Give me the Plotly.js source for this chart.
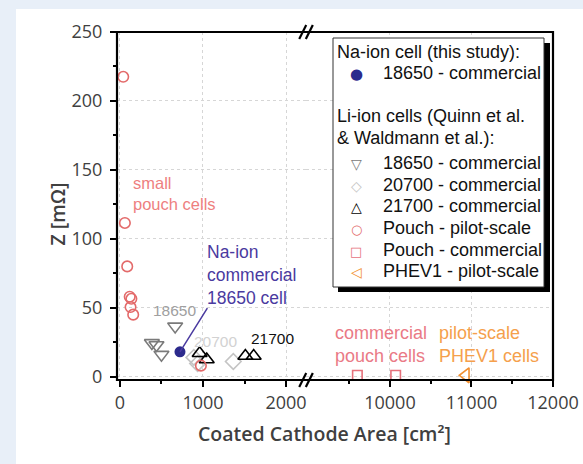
<!DOCTYPE html>
<html><head><meta charset="utf-8">
<script src="https://cdn.plot.ly/plotly-3.0.1.min.js"></script>
<style>html,body{margin:0;padding:0;background:#e8eff8;}#chart{width:583px;height:464px;}</style>
</head><body><div id="chart"></div>
<script>
// ---- data ----
const naX = [723];                        const naY = [18];
const li18650X = [665, 385, 440, 500];    const li18650Y = [36.5, 24.5, 23, 16];
const li20700X = [890, 935, 1365];        const li20700Y = [14, 9.5, 11];
const li21700X = [960, 1045, 1510, 1610]; const li21700Y = [17, 12.5, 15, 15];
const pouchPilotX = [40, 60, 88, 118, 138, 128, 160, 975];
const pouchPilotY = [217.5, 111.5, 80, 58, 56.5, 50.5, 45, 8];
const pouchCommX = [9600, 10070];         const pouchCommY = [1, 1];
const phevX = [10930];                    const phevY = [1];

const leftTicks = [0, 1000, 2000];
const leftMinor = [500, 1500];
const rightTicks = [10000, 11000, 12000];
const rightMinor = [9500, 10500, 11500];
const yTicks = [0, 50, 100, 150, 200, 250];

const groupTitleNa = 'Na-ion cell (this study):';
const groupTitleLi1 = 'Li-ion cells (Quinn et al.';
const groupTitleLi2 = '& Waldmann et al.):';
const seriesNames = ['18650 - commercial', '18650 - commercial', '20700 - commercial',
  '21700 - commercial', 'Pouch - pilot-scale', 'Pouch - commercial', 'PHEV1 - pilot-scale'];

// ---- styling ----
const ARIAL = 'Liberation Sans, Arial, sans-serif';
const TICKF = 'Open Sans, sans-serif';
const colors = ['#2c2a8c', '#7a7a7a', '#c4c4c4', '#000000', '#e36a6a', '#e6727c', '#f29030'];
const keyGlyphs = ['\u25CF', '\u25BD', '\u25C7', '\u25B3', '\u25CB', '\u25A1', '\u25C1'];
const keySizes = [15, 14, 14, 14, 13, 13, 14];
const NA_TEXT = '#4a3aa0';

// pixel -> paper helpers (plot area: x 117..553, y 32..380)
const PX = x => (x - 117) / 436;
const PY = y => 1 - (y - 32) / 348;

function openM(color, symbol, size) {
  return {symbol: symbol, size: size, color: color, line: {color: color, width: 1.6}};
}

const traces = [
  {x: naX, y: naY, xaxis: 'x', yaxis: 'y', mode: 'markers', name: seriesNames[0],
   marker: {symbol: 'circle', size: 11, color: colors[0]}, cliponaxis: false},
  {x: li18650X, y: li18650Y, xaxis: 'x', yaxis: 'y', mode: 'markers', name: seriesNames[1],
   marker: openM(colors[1], 'triangle-down-open', 13), cliponaxis: false},
  {x: li20700X, y: li20700Y, xaxis: 'x', yaxis: 'y', mode: 'markers', name: seriesNames[2],
   marker: openM(colors[2], 'diamond-open', 12), cliponaxis: false},
  {x: li21700X, y: li21700Y, xaxis: 'x', yaxis: 'y', mode: 'markers', name: seriesNames[3],
   marker: openM(colors[3], 'triangle-up-open', 13), cliponaxis: false},
  {x: pouchPilotX, y: pouchPilotY, xaxis: 'x', yaxis: 'y', mode: 'markers', name: seriesNames[4],
   marker: openM(colors[4], 'circle-open', 10.5), cliponaxis: false},
  {x: pouchCommX, y: pouchCommY, xaxis: 'x2', yaxis: 'y', mode: 'markers', name: seriesNames[5],
   marker: openM(colors[5], 'square-open', 9.5), cliponaxis: false},
  {x: phevX, y: phevY, xaxis: 'x2', yaxis: 'y', mode: 'markers', name: seriesNames[6],
   marker: openM(colors[6], 'triangle-left-open', 13), cliponaxis: false}
];

const BREAK = 0.4335;
const axCommon = {
  ticks: 'outside', ticklen: 6, tickwidth: 2, tickcolor: '#000',
  showgrid: true, gridcolor: '#d6d6d6', griddash: 'dot', gridwidth: 1,
  showline: false, zeroline: false, tickformat: 'd',
  tickfont: {family: TICKF, size: 18, color: '#404040'}
};
const minorCommon = {ticks: 'outside', ticklen: 3, tickwidth: 2, tickcolor: '#000', showgrid: false};

function slash(xc, yAnchor) {
  return {type: 'line', xref: 'paper', yref: 'paper', xsizemode: 'pixel', ysizemode: 'pixel',
          xanchor: BREAK, yanchor: yAnchor, x0: xc - 3.5, x1: xc + 3.5, y0: -7, y1: 7,
          line: {color: '#000', width: 2.2}};
}

// ---- hand-drawn legend (box + text) ----
const legendRowsY = [73, 163, 185, 206, 228, 250, 271];
const legendAnn = [];
legendAnn.push({xref: 'paper', yref: 'paper', x: PX(335), y: PY(52), xanchor: 'left', yanchor: 'middle',
  showarrow: false, text: groupTitleNa, font: {family: ARIAL, size: 18, color: '#111'}});
legendAnn.push({xref: 'paper', yref: 'paper', x: PX(335), y: PY(116), xanchor: 'left', yanchor: 'middle',
  showarrow: false, text: groupTitleLi1, font: {family: ARIAL, size: 18, color: '#111'}});
legendAnn.push({xref: 'paper', yref: 'paper', x: PX(335), y: PY(138), xanchor: 'left', yanchor: 'middle',
  showarrow: false, text: groupTitleLi2, font: {family: ARIAL, size: 18, color: '#111'}});
seriesNames.forEach((n, i) => {
  legendAnn.push({xref: 'paper', yref: 'paper', x: PX(381), y: PY(legendRowsY[i]), xanchor: 'left', yanchor: 'middle',
    showarrow: false, text: n, font: {family: ARIAL, size: 18, color: '#111'}});
  legendAnn.push({xref: 'paper', yref: 'paper', x: PX(356), y: PY(legendRowsY[i] + 1), xanchor: 'center', yanchor: 'middle',
    showarrow: false, text: keyGlyphs[i], font: {family: 'DejaVu Sans, sans-serif', size: keySizes[i], color: colors[i]}});
});

const layout = {
  width: 583, height: 464,
  margin: {l: 117, r: 30, t: 32, b: 84, pad: 0},
  paper_bgcolor: '#e8eff8', plot_bgcolor: '#ffffff',
  showlegend: false,
  xaxis: Object.assign({}, axCommon, {domain: [0, BREAK], range: [-35, 2240], anchor: 'y',
    tickmode: 'array', tickvals: leftTicks,
    minor: Object.assign({tickmode: 'array', tickvals: leftMinor}, minorCommon)}),
  xaxis2: Object.assign({}, axCommon, {domain: [BREAK, 1], range: [8970, 12000], anchor: 'y',
    tickmode: 'array', tickvals: rightTicks,
    minor: Object.assign({tickmode: 'array', tickvals: rightMinor}, minorCommon)}),
  yaxis: Object.assign({}, axCommon, {range: [-2.4, 250], anchor: 'x',
    tickmode: 'array', tickvals: yTicks, ticklabelstandoff: 4,
    minor: Object.assign({dtick: 25, tick0: 0}, minorCommon)}),
  shapes: [
    {type: 'rect', xref: 'paper', yref: 'paper', x0: PX(16), x1: PX(590), y0: PY(470), y1: PY(9),
     fillcolor: '#ffffff', line: {width: 0}, layer: 'below'},
    {type: 'rect', xref: 'paper', yref: 'paper', x0: 0, x1: 1, y0: 0, y1: 1,
     line: {color: '#000', width: 2.2}, layer: 'above'},
    slash(-3.3, 1), slash(3.3, 1), slash(-3.3, 0), slash(3.3, 0),
    // legend shadow + box
    {type: 'rect', xref: 'paper', yref: 'paper', x0: PX(338), x1: PX(550), y0: PY(292), y1: PY(43),
     fillcolor: '#000', line: {width: 0}, layer: 'above'},
    {type: 'rect', xref: 'paper', yref: 'paper', x0: PX(333), x1: PX(544), y0: PY(287), y1: PY(38),
     fillcolor: '#ffffff', line: {color: '#333', width: 1}, layer: 'above'}
  ],
  annotations: [
    {xref: 'paper', yref: 'paper', x: PX(324), y: PY(449), text: 'Coated Cathode Area [cm²]',
     showarrow: false, font: {family: TICKF, size: 19.5, color: '#404040', weight: 600}},
    {xref: 'paper', yref: 'paper', x: PX(41), y: PY(214), text: 'Z [mΩ]', textangle: -90,
     showarrow: false, font: {family: TICKF, size: 19.5, color: '#404040', weight: 600}},
    {xref: 'x', yref: 'y', x: 129, y: 133, xanchor: 'left', align: 'left', showarrow: false,
     text: 'small<br>pouch cells', font: {family: ARIAL, size: 16.5, color: '#ee7f7f'}},
    {xref: 'x', yref: 'y', x: 1024, y: 74, xanchor: 'left', align: 'left', showarrow: false,
     text: 'Na-ion<br>commercial<br>18650 cell', font: {family: ARIAL, size: 17.5, color: NA_TEXT}},
    {xref: 'x', yref: 'y', axref: 'x', ayref: 'y', x: naX[0], y: naY[0], ax: 1064, ay: 50.8,
     text: '', showarrow: true, arrowhead: 0, arrowwidth: 1.5, arrowcolor: NA_TEXT, standoff: 0},
    {xref: 'x', yref: 'y', x: 663, y: 48, showarrow: false, text: '18650',
     font: {family: ARIAL, size: 15.5, color: '#a0a0a0'}},
    {xref: 'x', yref: 'y', x: 1154, y: 25.4, showarrow: false, text: '20700',
     font: {family: ARIAL, size: 15.5, color: '#d2d2d2'}},
    {xref: 'x', yref: 'y', x: 1837, y: 27.9, showarrow: false, text: '21700',
     font: {family: ARIAL, size: 15.5, color: '#111'}},
    {xref: 'x2', yref: 'y', x: 9297, y: 23.2, xanchor: 'left', align: 'left', showarrow: false,
     text: 'commercial<br>pouch cells', font: {family: ARIAL, size: 18, color: '#ea7a86'}},
    {xref: 'x2', yref: 'y', x: 10573, y: 23.2, xanchor: 'left', align: 'left', showarrow: false,
     text: 'pilot-scale<br>PHEV1 cells', font: {family: ARIAL, size: 18, color: '#f5a04c'}}
  ].concat(legendAnn)
};

Plotly.newPlot('chart', traces, layout, {staticPlot: true, displayModeBar: false});
</script></body></html>
